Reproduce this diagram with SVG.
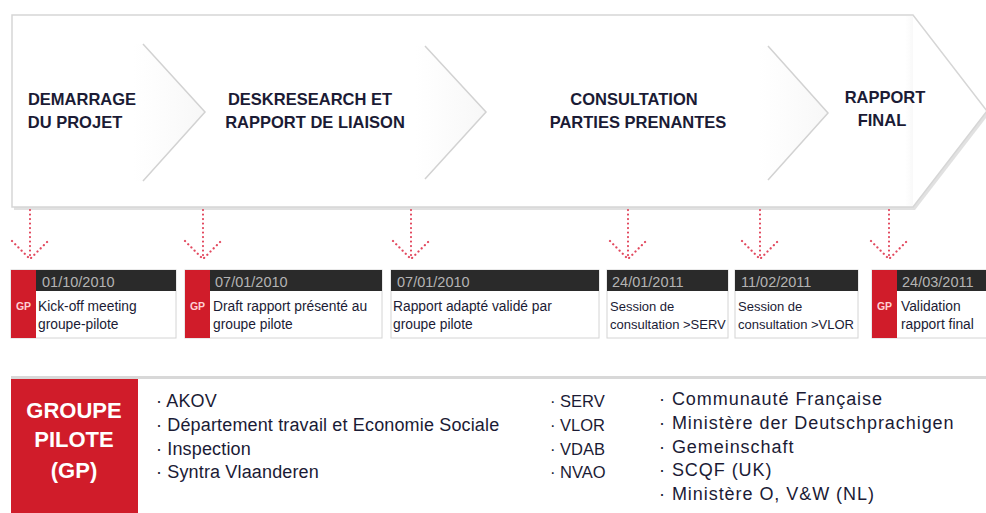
<svg xmlns="http://www.w3.org/2000/svg" width="986" height="513" viewBox="0 0 986 513">
<style>
.phase{font-family:"Liberation Sans",Arial,sans-serif;font-weight:bold;font-size:16.5px;fill:#1b1b35;text-anchor:middle}
.date{font-family:"Liberation Sans",Arial,sans-serif;font-size:14.5px;fill:#b4b4b4}
.body{font-family:"Liberation Sans",Arial,sans-serif;font-size:13.8px;fill:#1b1b35}
.small{font-size:13px}
.gp{font-family:"Liberation Sans",Arial,sans-serif;font-weight:bold;font-size:10.5px;fill:#ffd0d4;text-anchor:middle}
.card{fill:#fff;stroke:#d4d4d4;stroke-width:1}
.hdr{fill:#2a2a2a}
.red{fill:#d01c2a}
.dot{fill:none;stroke:#e2485e;stroke-width:2.2;stroke-linecap:round;stroke-dasharray:0.1 4.4}
.chev{fill:none;stroke:#d2d2d2;stroke-width:1.5}
.list{font-family:"Liberation Sans",Arial,sans-serif;font-size:18px;fill:#1b1b35}
.c1{letter-spacing:0.15px}
.c2{font-size:16.5px}
.c3{letter-spacing:0.95px}
.gpt{font-family:"Liberation Sans",Arial,sans-serif;font-weight:bold;font-size:22px;fill:#fff;text-anchor:middle}
</style>
<defs>
<linearGradient id="fade" x1="0" x2="1" y1="0" y2="0">
<stop offset="0" stop-color="#f4f4f4" stop-opacity="0"/>
<stop offset="1" stop-color="#f2f2f2" stop-opacity="1"/>
</linearGradient>
</defs>
<rect width="986" height="513" fill="#fff"/>

<g id="process-arrow">
<path d="M14,18 L915,18 L989,114 L915,210 L14,210 Z" fill="#d9d9d9" opacity="0.8"/>
<path d="M12,15 L913,15 L987,111 L913,207 L12,207 Z" fill="#fff" stroke="#d6d6d6" stroke-width="1.5"/>
<path d="M905,16 L913,16 L913,206 L905,206 Z" fill="url(#fade)" opacity="0.5"/>
</g>

<g id="phase-1">
<path d="M133,44 L143,44 L205,112 L143,181 L133,181 Z" fill="url(#fade)" opacity="0.6"/>
<polyline class="chev" points="143,44 205,112 143,181"/>
<text class="phase" x="82" y="105">DEMARRAGE</text>
<text class="phase" x="75" y="128">DU PROJET</text>
</g>
<g id="phase-2">
<path d="M415,46 L425,46 L486,112 L425,179 L415,179 Z" fill="url(#fade)" opacity="0.6"/>
<polyline class="chev" points="425,46 486,112 425,179"/>
<text class="phase" x="310" y="105">DESKRESEARCH ET</text>
<text class="phase" x="315" y="128">RAPPORT DE LIAISON</text>
</g>
<g id="phase-3">
<path d="M758,46 L768,46 L828,113 L768,180 L758,180 Z" fill="url(#fade)" opacity="0.6"/>
<polyline class="chev" points="768,46 828,113 768,180"/>
<text class="phase" x="634" y="105">CONSULTATION</text>
<text class="phase" x="638" y="128">PARTIES PRENANTES</text>
</g>
<g id="phase-4">
<text class="phase" x="885" y="103">RAPPORT</text>
<text class="phase" x="882" y="126">FINAL</text>
</g>

<g id="connectors">
<path class="dot" d="M30,210 L30,259 M12,241 L30,259 L48,241"/>
<path class="dot" d="M203,210 L203,259 M185,241 L203,259 L221,241"/>
<path class="dot" d="M411,210 L411,259 M393,241 L411,259 L429,241"/>
<path class="dot" d="M628,210 L628,259 M610,241 L628,259 L646,241"/>
<path class="dot" d="M760,210 L760,259 M742,241 L760,259 L778,241"/>
<path class="dot" d="M889,210 L889,259 M871,241 L889,259 L907,241"/>
</g>

<g id="milestone-1">
<rect class="card" x="11" y="270" width="165" height="68"/>
<rect class="hdr" x="36" y="270" width="140" height="21"/>
<rect class="red" x="11" y="270" width="25" height="68"/>
<text class="gp" x="23.5" y="310">GP</text>
<text class="date" x="42" y="287">01/10/2010</text>
<text class="body" x="38" y="311">Kick-off meeting</text>
<text class="body" x="38" y="329">groupe-pilote</text>
</g>
<g id="milestone-2">
<rect class="card" x="185" y="270" width="197" height="68"/>
<rect class="hdr" x="210" y="270" width="172" height="21"/>
<rect class="red" x="185" y="270" width="25" height="68"/>
<text class="gp" x="197.5" y="310">GP</text>
<text class="date" x="215" y="287">07/01/2010</text>
<text class="body" x="213" y="311">Draft rapport présenté au</text>
<text class="body" x="213" y="329">groupe pilote</text>
</g>
<g id="milestone-3">
<rect class="card" x="391" y="270" width="208" height="68"/>
<rect class="hdr" x="391" y="270" width="208" height="21"/>
<text class="date" x="397" y="287">07/01/2010</text>
<text class="body" x="393" y="311">Rapport adapté validé par</text>
<text class="body" x="393" y="329">groupe pilote</text>
</g>
<g id="milestone-4">
<rect class="card" x="607" y="270" width="121" height="68"/>
<rect class="hdr" x="607" y="270" width="121" height="21"/>
<text class="date" x="612" y="287">24/01/2011</text>
<text class="body small" x="610" y="311">Session de</text>
<text class="body small" x="610" y="329">consultation &gt;SERV</text>
</g>
<g id="milestone-5">
<rect class="card" x="735" y="270" width="123" height="68"/>
<rect class="hdr" x="735" y="270" width="123" height="21"/>
<text class="date" x="741" y="287">11/02/2011</text>
<text class="body small" x="738" y="311">Session de</text>
<text class="body small" x="738" y="329">consultation &gt;VLOR</text>
</g>
<g id="milestone-6">
<rect class="card" x="872" y="270" width="120" height="68"/>
<rect class="hdr" x="897" y="270" width="95" height="21"/>
<rect class="red" x="872" y="270" width="25" height="68"/>
<text class="gp" x="884.5" y="310">GP</text>
<text class="date" x="902" y="287">24/03/2011</text>
<text class="body" x="901" y="311">Validation</text>
<text class="body" x="901" y="329">rapport final</text>
</g>

<g id="groupe-pilote">
<rect x="11" y="376" width="990" height="150" fill="#d8d8d8"/>
<rect x="11" y="379" width="990" height="150" fill="#fff"/>
<rect class="red" x="11" y="379" width="127" height="140"/>
<text class="gpt" x="74" y="418">GROUPE</text>
<text class="gpt" x="74" y="447">PILOTE</text>
<text class="gpt" x="74" y="478">(GP)</text>
<g class="list">
<text class="c1" x="156" y="407">· AKOV</text>
<text class="c1" x="156" y="431">· Département travail et Economie Sociale</text>
<text class="c1" x="156" y="455">· Inspection</text>
<text class="c1" x="156" y="478">· Syntra Vlaanderen</text>
<text class="c2" x="550" y="407">· SERV</text>
<text class="c2" x="550" y="431">· VLOR</text>
<text class="c2" x="550" y="455">· VDAB</text>
<text class="c2" x="550" y="478">· NVAO</text>
<text class="c3" x="659" y="405">· Communauté Française</text>
<text class="c3" x="659" y="429">· Ministère der Deutschprachigen</text>
<text class="c3" x="659" y="453">· Gemeinschaft</text>
<text class="c3" x="659" y="476">· SCQF (UK)</text>
<text class="c3" x="659" y="500">· Ministère O, V&amp;W (NL)</text>
</g>
</g>
</svg>
